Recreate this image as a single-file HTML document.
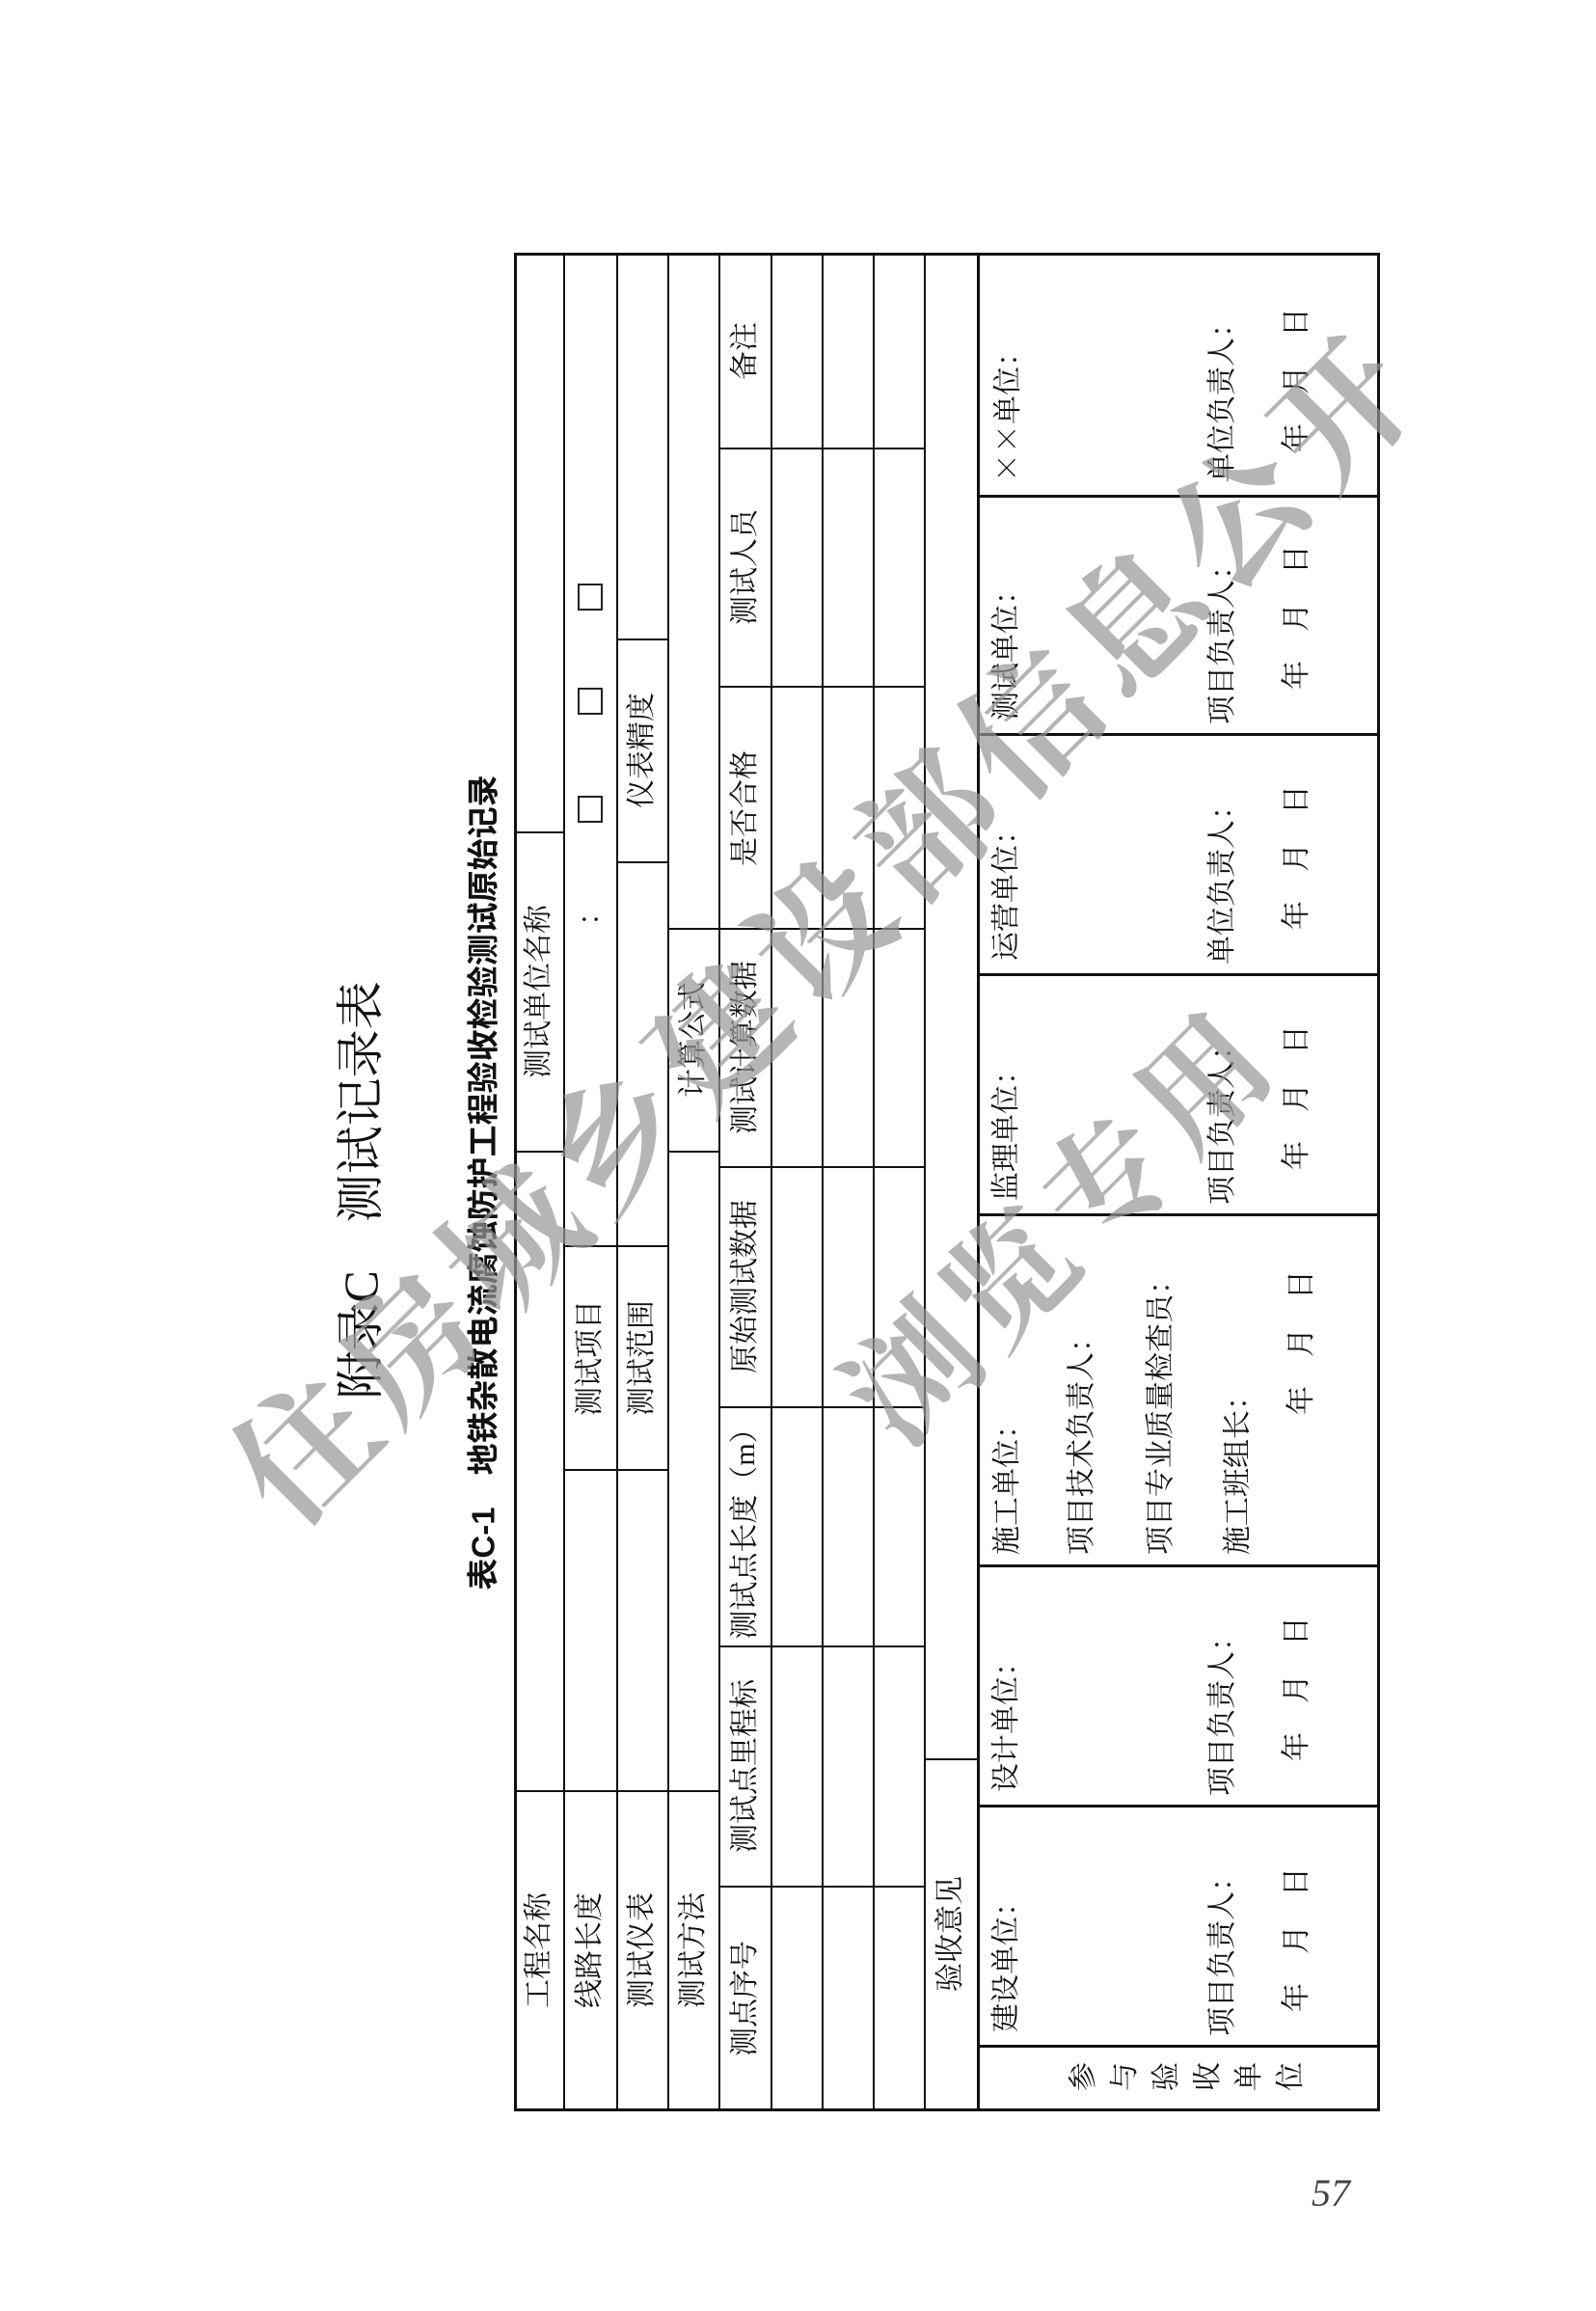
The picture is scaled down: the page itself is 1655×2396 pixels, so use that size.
<!DOCTYPE html>
<html><head><meta charset="utf-8">
<style>
html,body{margin:0;padding:0;background:#fff;}
#p{position:relative;width:1655px;height:2396px;overflow:hidden;background:#fff;font-family:"Liberation Serif","Noto Serif CJK SC",serif;color:#111;}
.h{position:absolute;background:#111;height:2px;}
.v{position:absolute;background:#111;width:2px;}
.c{position:absolute;white-space:nowrap;line-height:1;font-size:30px;transform:translate(-50%,-50%) rotate(-90deg);}
.s{position:absolute;white-space:nowrap;line-height:1;font-size:30px;transform-origin:0 0;transform:rotate(-90deg) translateY(-50%);}
.box{position:absolute;width:22px;height:24px;border:2px solid #222;}
.wm{position:absolute;white-space:nowrap;line-height:1;color:rgba(150,150,150,0.7);font-weight:bold;font-family:"Noto Serif CJK SC",serif;transform:translate(-50%,-50%) rotate(-45deg);}
</style></head><body><div id="p">

<div class="c" style="left:374px;top:1234px;font-size:50px;">附录C　测试记录表</div>
<div class="c" style="left:501px;top:1226px;font-size:33px;font-weight:bold;font-family:'Liberation Sans','Noto Sans CJK SC',sans-serif;">表C-1　地铁杂散电流腐蚀防护工程验收检验测试原始记录</div>

<div class="v" style="left:533px;top:262px;height:1927px;width:3px;"></div>
<div class="v" style="left:1428px;top:262px;height:1927px;width:3px;"></div>
<div class="h" style="left:533px;top:262px;width:898px;height:3px;"></div>
<div class="h" style="left:533px;top:2186px;width:898px;height:3px;"></div>
<div class="v" style="left:584px;top:263px;height:1925px;"></div>
<div class="v" style="left:639px;top:263px;height:1925px;"></div>
<div class="v" style="left:692px;top:263px;height:1925px;"></div>
<div class="v" style="left:745px;top:263px;height:1925px;"></div>
<div class="v" style="left:799px;top:263px;height:1925px;"></div>
<div class="v" style="left:852px;top:263px;height:1925px;"></div>
<div class="v" style="left:905px;top:263px;height:1925px;"></div>
<div class="v" style="left:958px;top:263px;height:1925px;"></div>
<div class="v" style="left:1013px;top:263px;height:1925px;width:3px;"></div>

<div class="h" style="left:534px;top:1856px;width:212px;"></div>
<div class="h" style="left:534px;top:862px;width:51px;"></div>
<div class="h" style="left:534px;top:1193px;width:51px;"></div>
<div class="h" style="left:585px;top:1291px;width:108px;"></div>
<div class="h" style="left:585px;top:1523px;width:108px;"></div>
<div class="h" style="left:640px;top:662px;width:53px;"></div>
<div class="h" style="left:640px;top:893px;width:53px;"></div>
<div class="h" style="left:693px;top:962px;width:53px;"></div>
<div class="h" style="left:693px;top:1193px;width:53px;"></div>
<div class="h" style="left:746px;top:464px;width:213px;"></div>
<div class="h" style="left:746px;top:711px;width:213px;"></div>
<div class="h" style="left:693px;top:962px;width:266px;"></div>
<div class="h" style="left:746px;top:1209px;width:213px;"></div>
<div class="h" style="left:746px;top:1458px;width:213px;"></div>
<div class="h" style="left:746px;top:1706px;width:213px;"></div>
<div class="h" style="left:746px;top:1955px;width:213px;"></div>
<div class="h" style="left:959px;top:1823px;width:55px;"></div>
<div class="h" style="left:1014px;top:513px;width:416px;height:3px;"></div>
<div class="h" style="left:1014px;top:760px;width:416px;height:3px;"></div>
<div class="h" style="left:1014px;top:1009px;width:416px;height:3px;"></div>
<div class="h" style="left:1014px;top:1258px;width:416px;height:3px;"></div>
<div class="h" style="left:1014px;top:1622px;width:416px;height:3px;"></div>
<div class="h" style="left:1014px;top:1871px;width:416px;height:3px;"></div>
<div class="h" style="left:1014px;top:2120px;width:416px;height:3px;"></div>

<div class="c" style="left:559px;top:2022px;">工程名称</div>
<div class="c" style="left:612px;top:2022px;">线路长度</div>
<div class="c" style="left:666px;top:2022px;">测试仪表</div>
<div class="c" style="left:719px;top:2022px;">测试方法</div>
<div class="c" style="left:559px;top:1028px;">测试单位名称</div>
<div class="c" style="left:612px;top:1408px;">测试项目</div>
<div class="c" style="left:666px;top:1408px;">测试范围</div>
<div class="c" style="left:666px;top:778px;">仪表精度</div>
<div class="c" style="left:719px;top:1078px;">计算公式</div>
<div class="c" style="left:612px;top:945px;">：</div>
<div class="box" style="left:599px;top:605px;"></div>
<div class="box" style="left:599px;top:713px;"></div>
<div class="box" style="left:599px;top:825px;"></div>

<div class="c" style="left:773px;top:2072px;">测点序号</div>
<div class="c" style="left:773px;top:1831px;">测试点里程标</div>
<div class="c" style="left:773px;top:1583px;">测试点长度（m）</div>
<div class="c" style="left:773px;top:1334px;">原始测试数据</div>
<div class="c" style="left:773px;top:1086px;">测试计算数据</div>
<div class="c" style="left:773px;top:838px;">是否合格</div>
<div class="c" style="left:773px;top:588px;">测试人员</div>
<div class="c" style="left:773px;top:364px;">备注</div>
<div class="c" style="left:986px;top:2005px;">验收意见</div>

<div class="s" style="left:1044px;top:500px;"><span style="font-family:'Noto Serif CJK SC',serif;">××</span>单位：</div>
<div class="s" style="left:1268px;top:500px;">单位负责人：</div>
<div class="s" style="left:1345px;top:469px;">年　月　日</div>

<div class="s" style="left:1044px;top:747px;">测试单位：</div>
<div class="s" style="left:1268px;top:751px;">项目负责人：</div>
<div class="s" style="left:1345px;top:715px;">年　月　日</div>

<div class="s" style="left:1044px;top:996px;">运营单位：</div>
<div class="s" style="left:1268px;top:1000px;">单位负责人：</div>
<div class="s" style="left:1345px;top:964px;">年　月　日</div>

<div class="s" style="left:1044px;top:1245px;">监理单位：</div>
<div class="s" style="left:1268px;top:1249px;">项目负责人：</div>
<div class="s" style="left:1345px;top:1213px;">年　月　日</div>

<div class="s" style="left:1045px;top:1612px;">施工单位：</div>
<div class="s" style="left:1122px;top:1612px;">项目技术负责人：</div>
<div class="s" style="left:1204px;top:1612px;">项目专业质量检查员：</div>
<div class="s" style="left:1284px;top:1612px;">施工班组长：</div>
<div class="s" style="left:1350px;top:1467px;">年　月　日</div>

<div class="s" style="left:1044px;top:1858px;">设计单位：</div>
<div class="s" style="left:1268px;top:1862px;">项目负责人：</div>
<div class="s" style="left:1345px;top:1826px;">年　月　日</div>

<div class="s" style="left:1044px;top:2107px;">建设单位：</div>
<div class="s" style="left:1268px;top:2111px;">项目负责人：</div>
<div class="s" style="left:1345px;top:2086px;">年　月　日</div>

<div class="c" style="left:1124px;top:2153px;">参</div>
<div class="c" style="left:1167px;top:2153px;">与</div>
<div class="c" style="left:1210px;top:2153px;">验</div>
<div class="c" style="left:1253px;top:2153px;">收</div>
<div class="c" style="left:1296px;top:2153px;">单</div>
<div class="c" style="left:1339px;top:2153px;">位</div>

<div style="position:absolute;left:1360px;top:2250px;font-size:40px;font-style:italic;color:#444;">57</div>

<div class="wm" style="left:852px;top:955px;font-size:140px;letter-spacing:12px;">住房城乡建设部信息公开</div>
<div class="wm" style="left:1096px;top:1264px;font-size:130px;letter-spacing:12px;">浏览专用</div>

</div></body></html>
